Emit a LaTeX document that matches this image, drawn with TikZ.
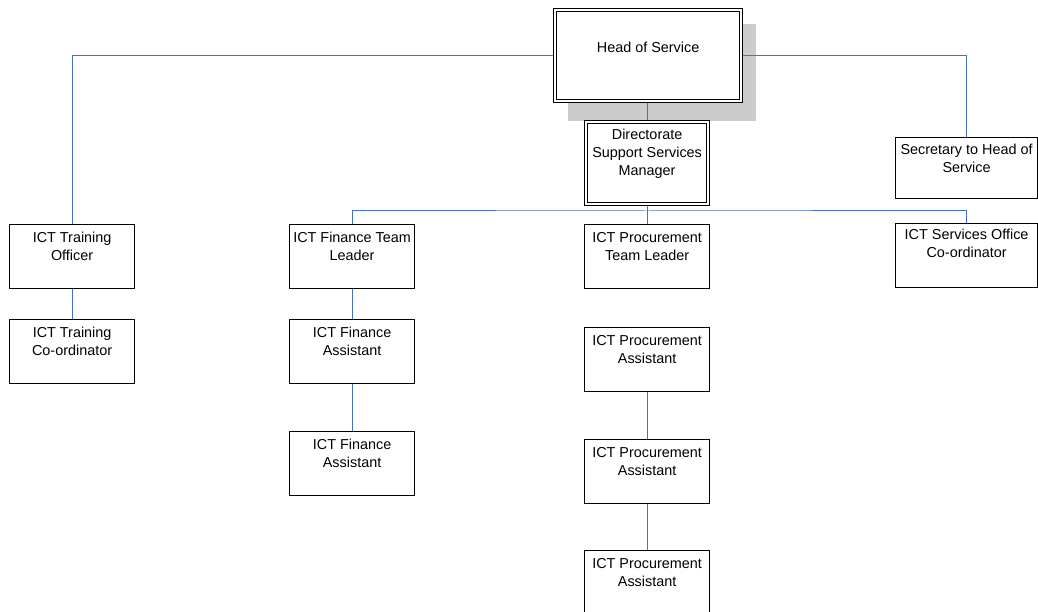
\documentclass[tikz,border=0pt]{standalone}
\usepackage{fontspec}
\setmainfont{Liberation Sans}
\begin{document}
\begin{tikzpicture}[x=1pt,y=-1pt,
  post/.style={draw=black, line width=1.2pt, fill=white, inner sep=0pt,
    minimum width=125pt, minimum height=64pt, anchor=north west},
  wide/.style={post, minimum width=142pt},
  senior/.style={post},
  inner rule/.style={draw=black, line width=1.2pt},
  title/.style={anchor=north, inner sep=0pt, align=center, yshift=-8pt,
    font=\fontsize{14.4}{18}\selectfont},
  link/.style={draw={rgb,255:red,68;green,114;blue,196}, line width=1pt}
]
\useasboundingbox (0,0) rectangle (1038,612);

% shadow behind the head of service
\fill[gray!40] (568,24) rectangle (756,121);

% senior posts, framed with a double rule
\node[senior, minimum width=189pt, minimum height=94pt] (hos) at (553,8) {};
\draw[inner rule] ([shift={(3.5,3.5)}]hos.north west) rectangle ([shift={(-3.5,-3.5)}]hos.south east);
\node[title, yshift=-26pt] (hosT) at (hos.north) {Head of Service};
\node[senior, minimum width=125pt, minimum height=85pt] (dir) at (584,120) {};
\draw[inner rule] ([shift={(3.5,3.5)}]dir.north west) rectangle ([shift={(-3.5,-3.5)}]dir.south east);
\node[title, yshift=-1pt] (dirT) at (dir.north) {Directorate\\Support Services\\Manager};
\node[wide, minimum height=61pt] (sec) at (895,137) {};
\node[title, yshift=1pt] (secT) at (sec.north) {Secretary to Head of\\Service};

% second tier
\node[post] (tro) at (9,224) {};
\node[title] (troT) at (tro.north) {ICT Training\\Officer};
\node[post] (ftl) at (289,224) {};
\node[title] (ftlT) at (ftl.north) {ICT Finance Team\\Leader};
\node[post] (ptl) at (584,224) {};
\node[title] (ptlT) at (ptl.north) {ICT Procurement\\Team Leader};
\node[wide] (soc) at (895,223) {};
\node[title, yshift=2pt] (socT) at (soc.north) {ICT Services Office\\Co-ordinator};

% third tier and below
\node[post] (trc) at (9,319) {};
\node[title] (trcT) at (trc.north) {ICT Training\\Co-ordinator};
\node[post] (fa1) at (289,319) {};
\node[title] (fa1T) at (fa1.north) {ICT Finance\\Assistant};
\node[post] (fa2) at (289,431) {};
\node[title] (fa2T) at (fa2.north) {ICT Finance\\Assistant};
\node[post] (pa1) at (584,327) {};
\node[title] (pa1T) at (pa1.north) {ICT Procurement\\Assistant};
\node[post] (pa2) at (584,439) {};
\node[title] (pa2T) at (pa2.north) {ICT Procurement\\Assistant};
\node[post] (pa3) at (584,550) {};
\node[title] (pa3T) at (pa3.north) {ICT Procurement\\Assistant};

% reporting lines
\coordinate (bus) at (647,211);
\draw[link] (hos.west) -| (tro.north);
\draw[link] (hos.east) -| (sec.north);
\draw[link] (hos.south -| dir.north) -- (dir.north);
\draw[link] (dir.south) -- (ptl.north);
\draw[link] (ftl.north) |- (bus) -| (soc.north);
\draw[link] (tro.south) -- (trc.north);
\draw[link] (ftl.south) -- (fa1.north);
\draw[link] (fa1.south) -- (fa2.north);
\draw[link] (pa1.south) -- (pa2.north);
\draw[link] (pa2.south) -- (pa3.north);
\end{tikzpicture}
\end{document}
